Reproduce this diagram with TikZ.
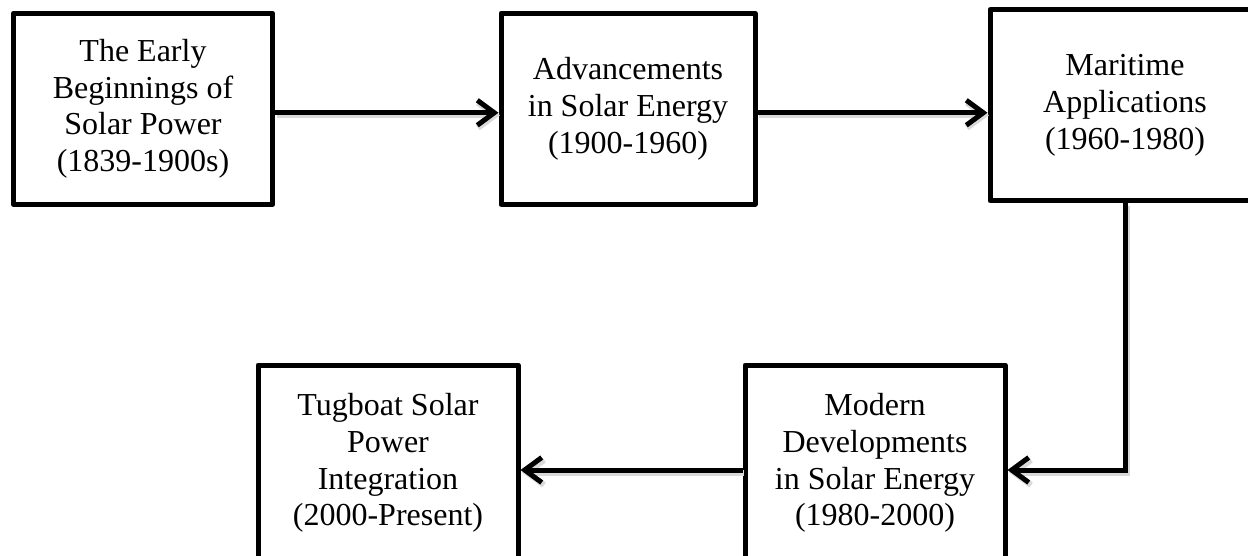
\documentclass[tikz,border=0pt]{standalone}
\usepackage{fontspec}
\setmainfont{Liberation Serif}
\usetikzlibrary{arrows.meta}

\begin{document}
\begin{tikzpicture}[
	         x                = 0.5pt,
	         y                = -0.5pt,
	         box/.style       = {draw, line width=2.5pt, line join=round, align=center,
	                             inner sep=0pt, minimum height=95.5pt,
	                             font=\fontsize{16}{18.4}\selectfont},
	         link/.style      = {line width=2.5pt, -{Straight Barb[length=8.5pt, width=12.5pt]},
	                             preaction={draw=black!15, line width=3pt,
	                             transform canvas={shift={(0.75pt,-1.25pt)}}}}]
	  \useasboundingbox (0,0) rectangle (1248,556);
	  \clip (0,0) rectangle (1248,556);
	  \node [box, minimum width=129.75pt] (early)    at (143,108.75) {The Early\\Beginnings of\\Solar Power\\(1839-1900s)};
	  \node [box, minimum width=127pt]    (advance)  at (628,108.75) {Advancements\\in Solar Energy\\(1900-1960)};
	  \node [box, minimum width=135pt]    (maritime) at (1125,105.25) {Maritime\\Applications\\(1960-1980)};
	  \node [box, minimum width=130pt, minimum height=98pt] (modern)  at (875,463) {Modern\\Developments\\in Solar Energy\\(1980-2000)};
	  \node [box, minimum width=130pt, minimum height=98pt] (tugboat) at (388,463) {Tugboat Solar\\Power\\Integration\\(2000-Present)};
	  \draw [link] ([yshift=-2pt]early.east) -- ([yshift=-2pt]advance.west);
	  \draw [link] ([yshift=-2pt]advance.east) -- ([yshift=-2pt]maritime.west |- advance.east);
	  \draw [link] (maritime.south) |- ([yshift=-3.5pt]modern.east);
	  \draw [link] ([yshift=-3.5pt]modern.west) -- ([yshift=-3.5pt]tugboat.east);
	\end{tikzpicture}
\end{document}
